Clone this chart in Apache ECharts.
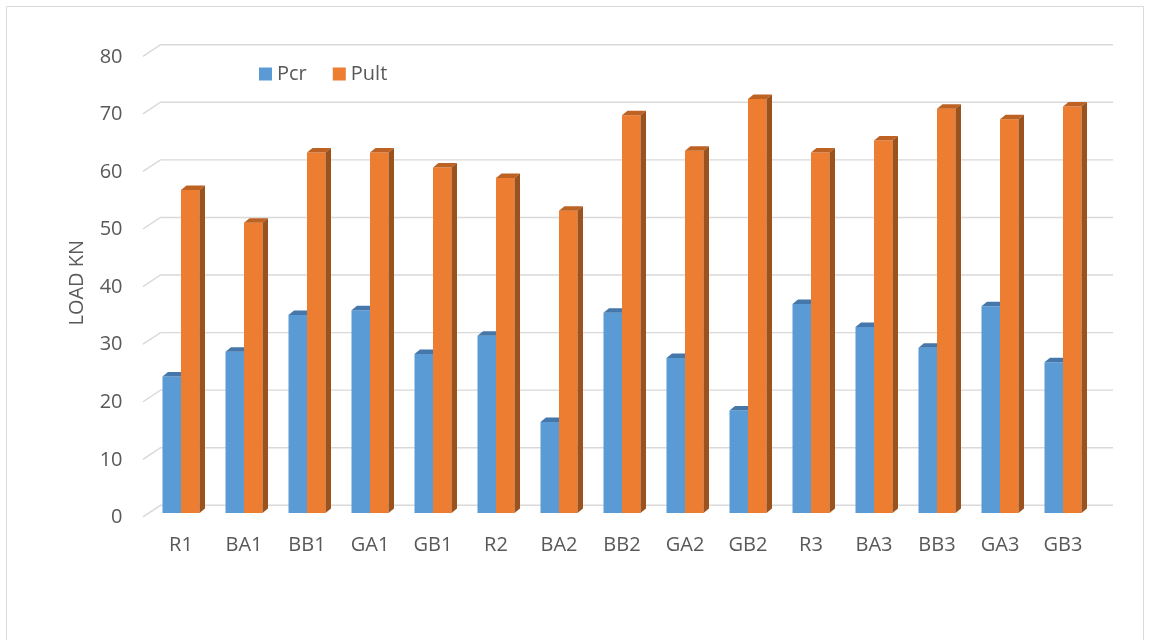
<!DOCTYPE html>
<html>
<head>
<meta charset="utf-8">
<script src="https://cdn.jsdelivr.net/npm/echarts@6/dist/echarts.min.js"></script>
<style>
  html, body { margin: 0; padding: 0; background: #fff; }
  #chart { width: 1152px; height: 640px; }
</style>
</head>
<body>
<div id="chart"></div>
<script>
// Specimen labels along the horizontal axis
const categories = ['R1', 'BA1', 'BB1', 'GA1', 'GB1', 'R2', 'BA2', 'BB2', 'GA2', 'GB2', 'R3', 'BA3', 'BB3', 'GA3', 'GB3'];
// Cracking load (kN)
const pcrValues = [23.7, 28.0, 34.4, 35.2, 27.6, 30.8, 15.8, 34.8, 26.9, 17.8, 36.3, 32.3, 28.7, 35.9, 26.2];
// Ultimate load (kN)
const pultValues = [56.1, 50.4, 62.6, 62.6, 60.0, 58.2, 52.5, 69.1, 62.9, 71.9, 62.6, 64.7, 70.2, 68.4, 70.6];
// Value-axis gridline levels
const yTicks = [0, 10, 20, 30, 40, 50, 60, 70, 80];

const FONT = '"Open Sans", "Liberation Sans", sans-serif';
const TEXT_COLOR = '#595959';

// Pseudo-3D column geometry (pixels)
const BAR_W = 18.5;
const DEPTH_X = 5.5;
const DEPTH_Y = -4.5;

const palette = {
  Pcr:  { front: '#5B9BD5', top: '#4577AA', side: '#3F6E9E' },
  Pult: { front: '#ED7D31', top: '#BD6222', side: '#9C521D' }
};

function columnRenderer(seriesIdx, colors) {
  return function (params, api) {
    const i = api.value(0);
    const v = api.value(1);
    const base = api.coord([i, 0]);
    const top = api.coord([i, v]);
    const cx = base[0];
    const x1 = seriesIdx === 0 ? cx - BAR_W : cx;
    const x2 = x1 + BAR_W;
    const y0 = base[1];
    const y1 = top[1];
    return {
      type: 'group',
      children: [
        {
          type: 'polygon',
          shape: { points: [[x1, y0], [x2, y0], [x2, y1], [x1, y1]] },
          style: { fill: colors.front }
        },
        {
          type: 'polygon',
          shape: { points: [[x1, y1], [x2, y1], [x2 + DEPTH_X, y1 + DEPTH_Y], [x1 + DEPTH_X, y1 + DEPTH_Y]] },
          style: { fill: colors.top }
        },
        {
          type: 'polygon',
          shape: { points: [[x2, y0], [x2 + DEPTH_X, y0 + DEPTH_Y], [x2 + DEPTH_X, y1 + DEPTH_Y], [x2, y1]] },
          style: { fill: colors.side }
        }
      ]
    };
  };
}

// Back-wall gridlines with a short slanted lead-in on the left
function gridlineRenderer(params, api) {
  const cs = params.coordSys;
  const y = api.coord([0, api.value(1)])[1];
  return {
    type: 'polyline',
    shape: {
      points: [
        [cs.x - 6.5, y + 3.9],
        [cs.x + 11, y - 7.7],
        [cs.x + cs.width + 18.5, y - 7.7]
      ]
    },
    style: { stroke: '#D9D9D9', lineWidth: 1.4, fill: null },
    silent: true,
    z2: 0
  };
}

const chart = echarts.init(document.getElementById('chart'), null, { renderer: 'canvas' });

chart.setOption({
  backgroundColor: '#ffffff',
  animation: false,
  textStyle: { fontFamily: FONT },
  graphic: [
    {
      type: 'rect',
      shape: { x: 6.5, y: 6.5, width: 1137, height: 660 },
      style: { fill: null, stroke: '#D9D9D9', lineWidth: 1 },
      silent: true,
      z: -10
    }
  ],
  legend: {
    data: ['Pcr', 'Pult'],
    left: 254,
    top: 59,
    itemWidth: 13,
    itemHeight: 13,
    itemGap: 26,
    icon: 'rect',
    textStyle: { fontSize: 20, color: TEXT_COLOR, fontFamily: FONT }
  },
  grid: { left: 149.5, right: 57.5, top: 52.4, bottom: 127 },
  xAxis: {
    type: 'category',
    data: categories,
    axisLine: { show: false },
    axisTick: { show: false },
    splitLine: { show: false },
    axisLabel: { fontSize: 20, color: TEXT_COLOR, fontFamily: FONT, margin: 22 }
  },
  yAxis: {
    type: 'value',
    min: 0,
    max: 80,
    interval: 10,
    name: 'LOAD KN',
    nameLocation: 'middle',
    nameGap: 62,
    nameTextStyle: { fontSize: 20, color: TEXT_COLOR, fontFamily: FONT },
    axisLine: { show: false },
    axisTick: { show: false },
    splitLine: { show: false },
    axisLabel: { fontSize: 20, color: TEXT_COLOR, fontFamily: FONT, margin: 27, verticalAlign: 'top', lineHeight: 9 }
  },
  series: [
    {
      name: 'grid',
      type: 'custom',
      data: yTicks.map(v => [0, v]),
      encode: { x: 0, y: 1 },
      renderItem: gridlineRenderer,
      silent: true,
      z: 1
    },
    {
      name: 'Pcr',
      type: 'custom',
      data: pcrValues.map((v, i) => [i, v]),
      encode: { x: 0, y: 1 },
      itemStyle: { color: palette.Pcr.front },
      renderItem: columnRenderer(0, palette.Pcr),
      z: 2
    },
    {
      name: 'Pult',
      type: 'custom',
      data: pultValues.map((v, i) => [i, v]),
      encode: { x: 0, y: 1 },
      itemStyle: { color: palette.Pult.front },
      renderItem: columnRenderer(1, palette.Pult),
      z: 3
    }
  ]
});
</script>
</body>
</html>
